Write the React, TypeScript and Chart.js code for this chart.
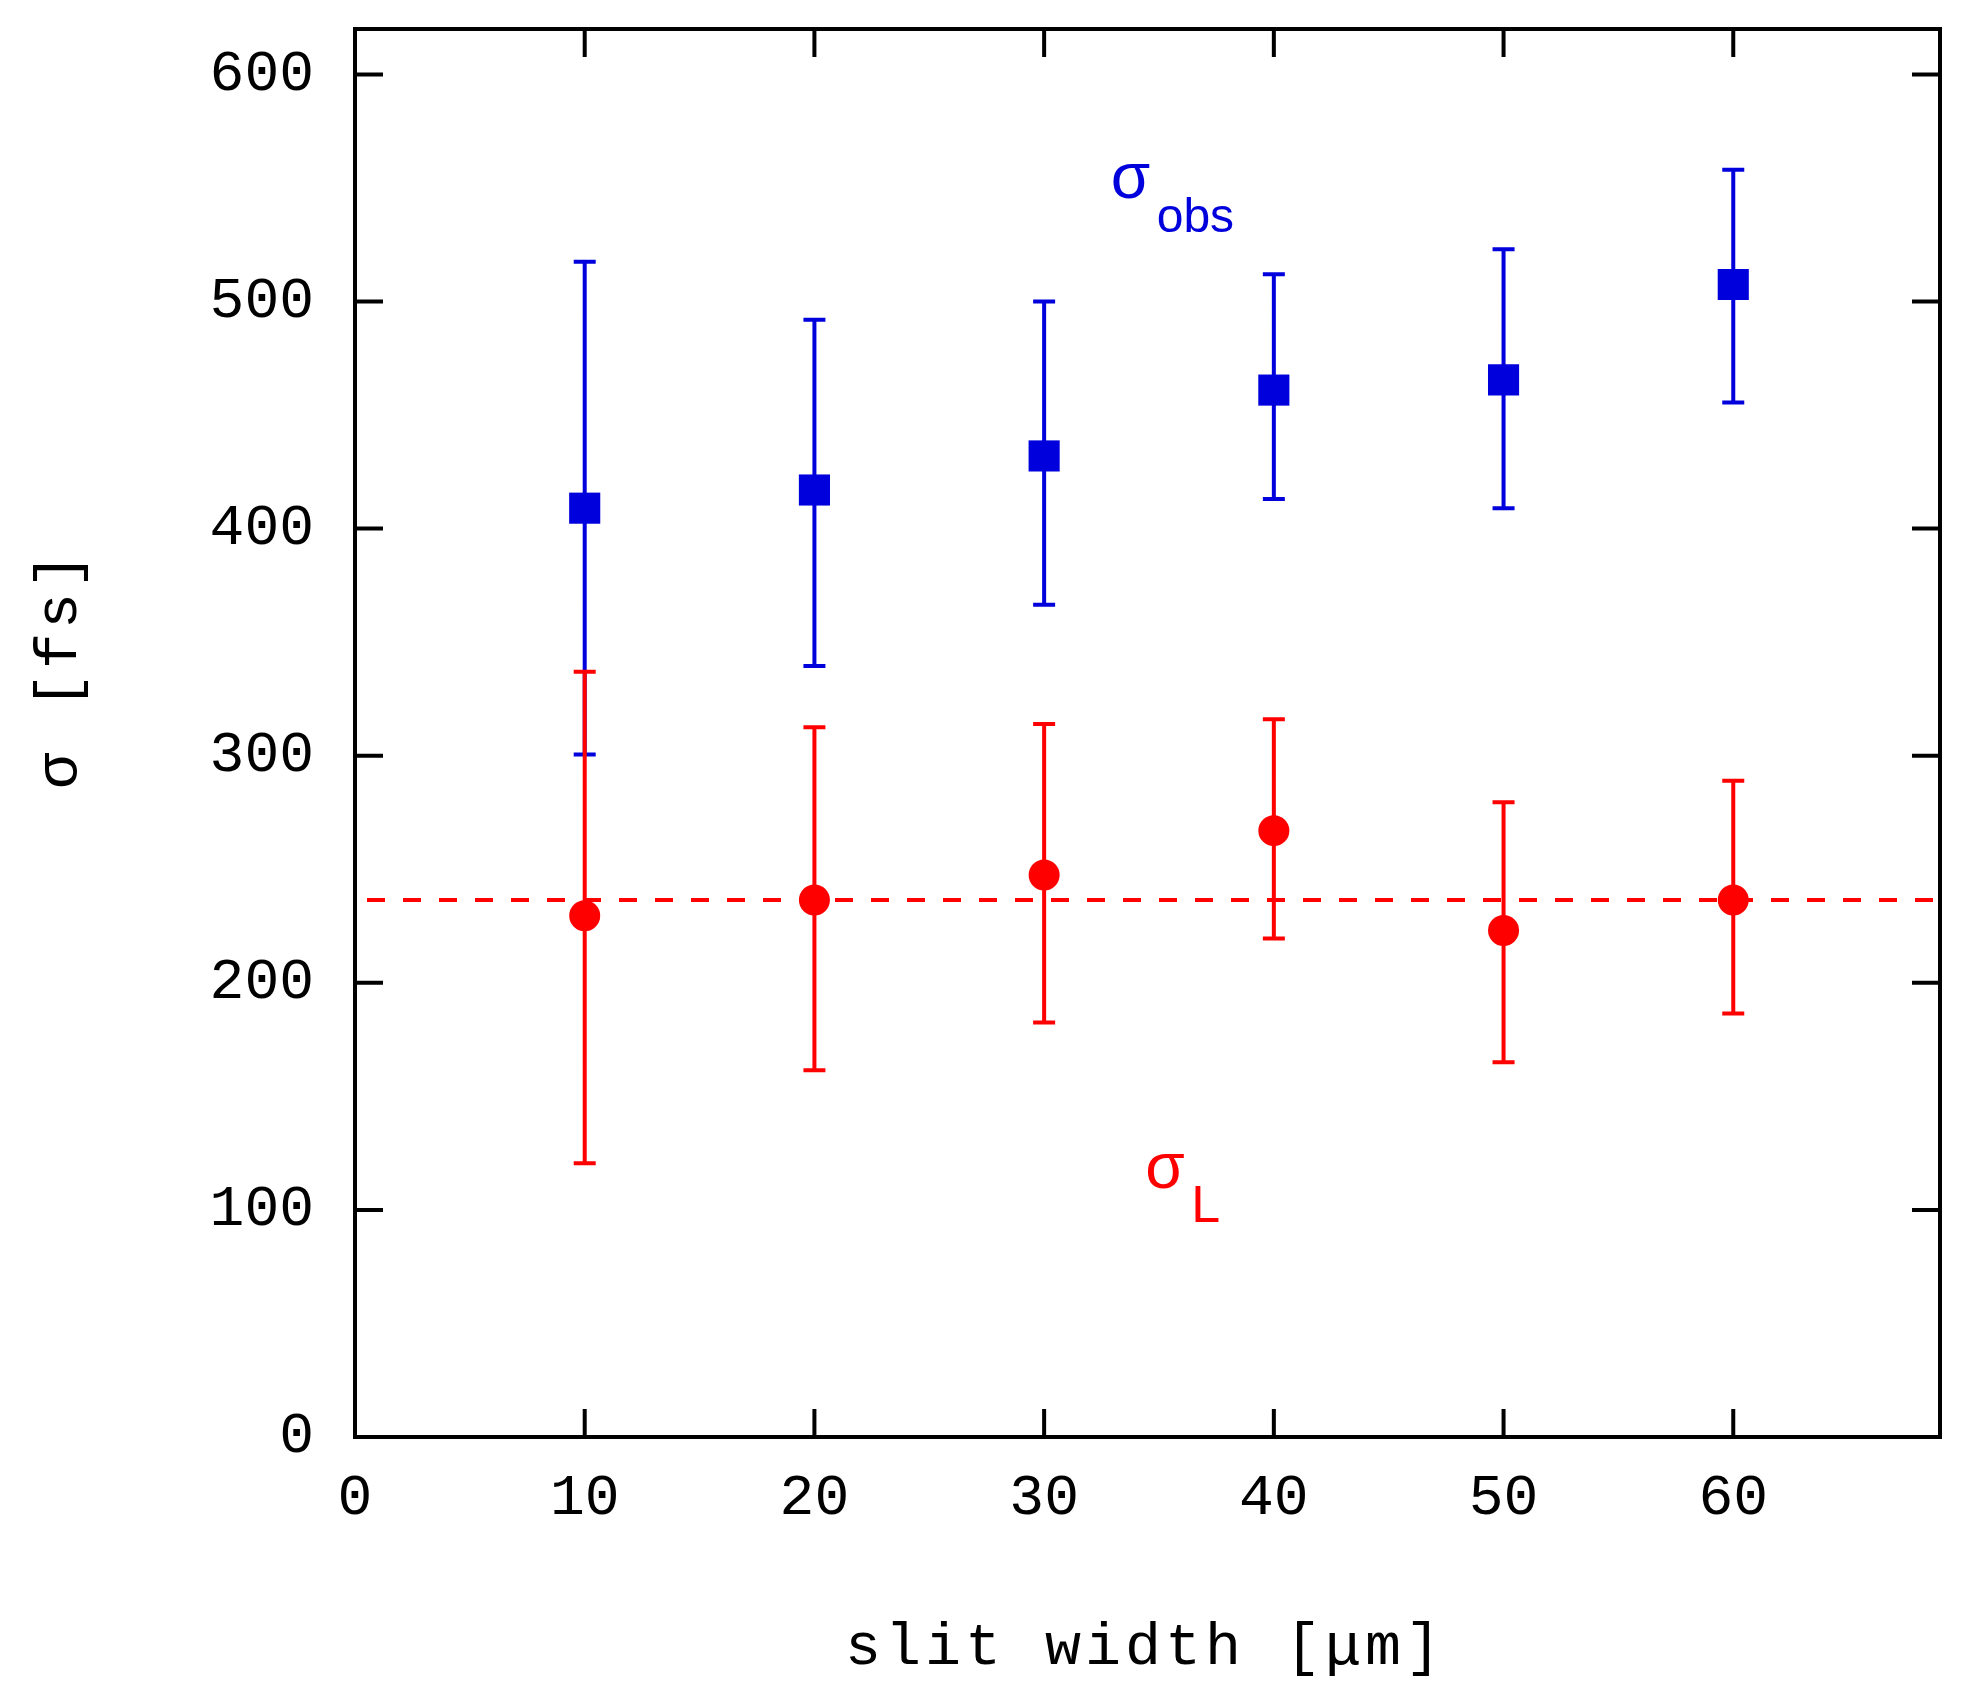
import React, { useEffect, useRef } from 'react';
import { Chart, registerables } from 'chart.js';

Chart.register(...registerables);

// ---------- data ----------
const slitWidths = [10, 20, 30, 40, 50, 60];
const sigmaObs = [409, 417, 432, 461, 465.5, 507.5];
const sigmaObsLow = [300.5, 339.5, 366.5, 413, 409, 455.5];
const sigmaObsHigh = [517.5, 492, 500, 512, 523, 558];
const sigmaL = [229.5, 236.5, 247.5, 267, 223, 236.5];
const sigmaLLow = [120.5, 161.5, 182.5, 219.5, 165, 186.5];
const sigmaLHigh = [337, 312.5, 314, 316, 279.5, 289];
const sigmaLMean = 236.5;
const xTicks = [0, 10, 20, 30, 40, 50, 60];
const yTicks = [0, 100, 200, 300, 400, 500, 600];
const xLabel = 'slit width [μm]';
const yLabel = 'σ [fs]';

const BLUE = '#0000dd';
const RED = '#ff0000';
const MONO = '"Liberation Mono", "DejaVu Sans Mono", monospace';
const SANS = '"Liberation Sans", "DejaVu Sans", sans-serif';

const W = 1968;
const H = 1705;

const errorBars: { [k: number]: { low: number[]; high: number[]; color: string } } = {
  1: { low: sigmaObsLow, high: sigmaObsHigh, color: BLUE },
  2: { low: sigmaLLow, high: sigmaLHigh, color: RED },
};

const errorBarPlugin = {
  id: 'errorBars',
  beforeDatasetsDraw(chart: any) {
    const { ctx, scales } = chart;
    const x = scales.x;
    const y = scales.y;
    ctx.save();
    ctx.lineWidth = 4;
    ctx.lineCap = 'butt';
    Object.keys(errorBars).forEach((k) => {
      const eb = errorBars[Number(k)];
      ctx.strokeStyle = eb.color;
      ctx.beginPath();
      slitWidths.forEach((xv, i) => {
        const px = x.getPixelForValue(xv);
        const pLow = y.getPixelForValue(eb.low[i]);
        const pHigh = y.getPixelForValue(eb.high[i]);
        ctx.moveTo(px, pLow);
        ctx.lineTo(px, pHigh);
        ctx.moveTo(px - 11, pLow);
        ctx.lineTo(px + 11, pLow);
        ctx.moveTo(px - 11, pHigh);
        ctx.lineTo(px + 11, pHigh);
      });
      ctx.stroke();
    });
    ctx.restore();
  },
};

const framePlugin = {
  id: 'frame',
  afterDraw(chart: any) {
    const { ctx, chartArea: a, scales } = chart;
    const x = scales.x;
    const y = scales.y;
    ctx.save();
    ctx.strokeStyle = '#000';
    ctx.lineWidth = 4;
    ctx.beginPath();
    xTicks.forEach((v) => {
      const px = x.getPixelForValue(v);
      ctx.moveTo(px, a.bottom);
      ctx.lineTo(px, a.bottom - 28);
      ctx.moveTo(px, a.top);
      ctx.lineTo(px, a.top + 28);
    });
    yTicks.forEach((v) => {
      const py = y.getPixelForValue(v);
      ctx.moveTo(a.left, py);
      ctx.lineTo(a.left + 28, py);
      ctx.moveTo(a.right, py);
      ctx.lineTo(a.right - 28, py);
    });
    ctx.stroke();
    ctx.strokeRect(a.left, a.top, a.right - a.left, a.bottom - a.top);

    // axis titles
    ctx.fillStyle = '#000';
    (ctx as any).letterSpacing = '4px';
    ctx.font = `60px ${MONO}`;
    ctx.textAlign = 'center';
    ctx.textBaseline = 'alphabetic';
    ctx.fillText(xLabel, 1145, 1664);
    ctx.save();
    ctx.translate(76, 669);
    ctx.rotate(-Math.PI / 2);
    ctx.fillText(yLabel, 0, 0);
    ctx.restore();
    (ctx as any).letterSpacing = '0px';

    // annotations
    ctx.textAlign = 'left';
    ctx.fillStyle = BLUE;
    ctx.font = `64px ${SANS}`;
    ctx.fillText('σ', x.getPixelForValue(32.9), y.getPixelForValue(545.5));
    ctx.font = `48px ${SANS}`;
    ctx.fillText('obs', x.getPixelForValue(34.9), y.getPixelForValue(530.5));
    ctx.fillStyle = RED;
    ctx.font = `64px ${SANS}`;
    ctx.fillText('σ', x.getPixelForValue(34.4), y.getPixelForValue(109.5));
    ctx.font = `52px ${SANS}`;
    ctx.fillText('L', x.getPixelForValue(36.4), y.getPixelForValue(94.5));
    ctx.restore();
  },
};

export default function App() {
  const ref = useRef<HTMLCanvasElement | null>(null);
  useEffect(() => {
    document.body.style.margin = '0';
    const canvas = ref.current;
    if (!canvas) return;
    const zeroPad = (s: any) => {
      s.paddingTop = 0;
      s.paddingBottom = 0;
      s.paddingLeft = 0;
      s.paddingRight = 0;
    };
    const chart = new Chart(canvas, {
      type: 'scatter',
      data: {
        datasets: [
          {
            label: 'mean',
            type: 'line',
            data: [
              { x: 0, y: sigmaLMean },
              { x: 69, y: sigmaLMean },
            ],
            borderColor: RED,
            borderWidth: 4,
            borderDash: [18, 18],
            borderDashOffset: 24,
            pointRadius: 0,
            fill: false,
            tension: 0,
          } as any,
          {
            label: 'σobs',
            data: slitWidths.map((xv, i) => ({ x: xv, y: sigmaObs[i] })),
            pointStyle: 'rect',
            pointRadius: 22,
            pointHoverRadius: 22,
            backgroundColor: BLUE,
            borderWidth: 0,
          },
          {
            label: 'σL',
            data: slitWidths.map((xv, i) => ({ x: xv, y: sigmaL[i] })),
            pointStyle: 'circle',
            pointRadius: 15.5,
            pointHoverRadius: 15.5,
            backgroundColor: RED,
            borderWidth: 0,
          },
        ],
      },
      options: {
        animation: false,
        responsive: false,
        devicePixelRatio: 1,
        events: [],
        layout: { padding: { top: 29, right: 28, left: 0, bottom: 0 } },
        plugins: {
          legend: { display: false },
          tooltip: { enabled: false },
          title: { display: false },
        },
        scales: {
          x: {
            type: 'linear',
            min: 0,
            max: 69,
            afterBuildTicks: (s: any) => {
              s.ticks = xTicks.map((v) => ({ value: v }));
            },
            afterFit: (s: any) => {
              s.height = H - 1437;
              zeroPad(s);
            },
            grid: { display: false, drawTicks: false },
            border: { display: false },
            ticks: {
              color: '#000',
              font: { family: MONO, size: 58, lineHeight: 1.2 },
              padding: 27,
              maxRotation: 0,
              minRotation: 0,
              autoSkip: false,
            },
          },
          y: {
            type: 'linear',
            min: 0,
            max: 620,
            afterBuildTicks: (s: any) => {
              s.ticks = yTicks.map((v) => ({ value: v }));
            },
            afterFit: (s: any) => {
              s.width = 355;
              zeroPad(s);
            },
            grid: { display: false, drawTicks: false },
            border: { display: false },
            ticks: {
              color: '#000',
              font: { family: MONO, size: 58, lineHeight: 1.2 },
              padding: 41,
              autoSkip: false,
            },
          },
        },
      },
      plugins: [errorBarPlugin, framePlugin],
    });
    return () => chart.destroy();
  }, []);
  return (
    <div style={{ position: 'absolute', left: 0, top: 0, width: W, height: H, background: '#fff' }}>
      <canvas ref={ref} width={W} height={H} style={{ display: 'block', width: W, height: H }} />
    </div>
  );
}
